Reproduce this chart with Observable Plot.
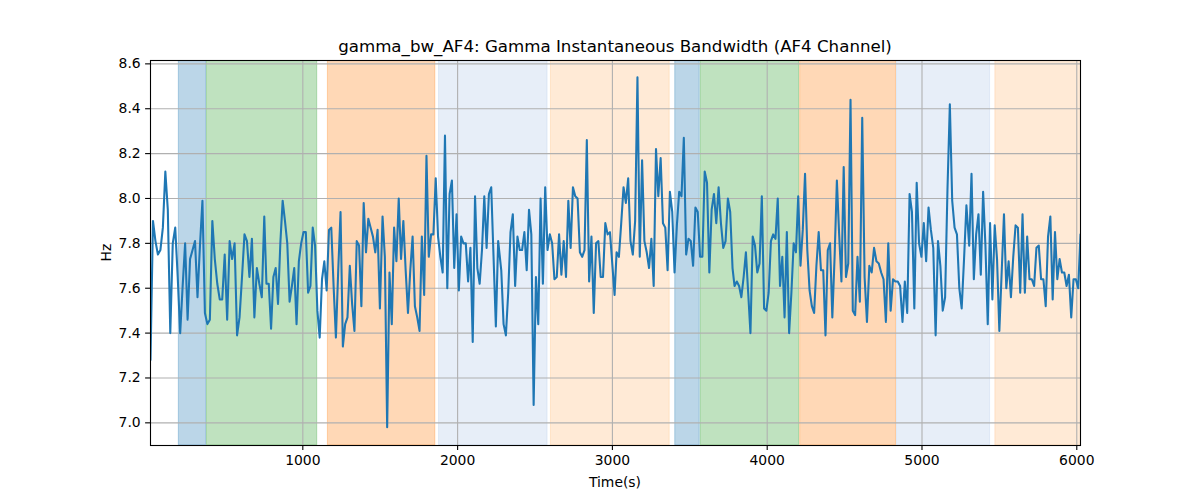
<!DOCTYPE html>
<html>
<head>
<meta charset="utf-8">
<script src="https://cdn.jsdelivr.net/npm/d3@7"></script>
<script src="https://cdn.jsdelivr.net/npm/@observablehq/plot@0.6"></script>
<style>
  body { margin: 0; background: #fff; }
  #chart { width: 1200px; height: 500px; }
</style>
</head>
<body>
<div id="chart"></div>
<script>
// ---- Data ----
const titleText = "gamma_bw_AF4: Gamma Instantaneous Bandwidth (AF4 Channel)";
const xLabel = "Time(s)";
const yLabel = "Hz";

// Signal, in consecutive stretches; each stretch runs from segStart to segEnd (seconds)
const segStart = [16, 765, 1515, 2282, 3027, 3789, 4568, 5305];
const segEnd   = [751, 1498, 2262, 3014, 3776, 4553, 5287, 6024];

const segA = [7.28,7.90,7.81,7.75,7.77,7.87,8.12,7.95,7.40,7.80,7.87,7.65,7.40,7.61,7.80,7.46,7.73,7.77,7.81,7.56,7.79,7.99,7.49,7.44,7.46,7.90,7.73,7.62,7.55,7.55,7.75,7.46,7.81,7.73,7.80,7.39,7.47,7.65,7.84,7.81,7.65,7.82,7.47,7.69,7.62,7.56,7.92];
const segB = [7.62,7.62,7.42,7.65,7.69,7.53,7.80,7.99,7.90,7.80,7.54,7.61,7.69,7.44,7.72,7.80,7.85,7.85,7.58,7.61,7.87,7.79,7.50,7.38,7.64,7.72,7.59,7.86,7.87,7.61,7.38,7.68,7.94,7.34,7.44,7.47,7.70,7.53,7.41,7.81,7.79,7.52,7.98,7.76,7.91,7.87,7.83,7.76,7.86,7.51];
const segC = [7.92,7.74,6.98,7.67,7.44,7.87,7.72,8.00,7.73,7.90,7.68,7.49,7.68,7.83,7.52,7.47,7.41,7.83,7.57,8.19,7.74,7.84,7.84,8.09,7.83,7.74,7.67,8.28,7.60,8.02,8.08,7.69,7.93,7.59,7.83,7.80,7.80,7.63,7.78,7.36,8.01,7.69,7.62,7.77,8.01,7.78,8.02,8.05,7.74,7.43,7.81];
const segD = [7.68,7.44,7.39,7.58,7.85,7.93,7.61,7.83,7.77,7.77,7.85,7.68,7.95,7.84,7.08,7.65,7.44,8.00,7.62,8.05,7.77,7.84,7.80,7.64,7.65,7.84,7.66,7.81,7.65,7.99,7.78,8.05,8.01,8.00,7.76,7.74,7.77,8.26,7.63,7.83,7.49,7.80,7.81,7.65,7.65,7.89,7.84,7.85,7.71,7.57];
const segE = [7.76,7.74,7.89,8.05,7.98,8.09,7.81,7.75,7.90,8.54,7.74,8.17,7.81,7.76,7.69,7.82,7.61,8.22,8.01,8.18,7.89,7.87,7.68,8.03,7.94,7.67,7.88,8.03,8.01,8.27,7.75,7.82,7.81,7.70,7.96,7.94,7.74,7.74,8.12,8.07,7.67,7.95,8.02,7.89,8.05,7.89,7.78,7.81,8.00,7.94,7.69];
const segF = [7.61,7.63,7.61,7.56,7.65,7.76,7.58,7.40,7.83,7.79,7.67,7.71,8.01,7.51,7.50,7.58,7.81,7.84,7.82,8.00,7.61,7.74,7.47,7.85,7.40,7.58,7.80,7.76,8.01,7.70,7.86,8.11,7.77,7.59,7.52,7.49,7.70,7.85,7.68,7.68,7.39,7.77,7.80,7.47,7.74,8.08,7.84,7.63,8.14,7.65,7.71,8.44,7.50];
const segG = [7.48,7.74,7.54,8.36,7.65,7.45,7.70,7.67,7.78,7.72,7.71,7.67,7.64,7.45,7.80,7.50,7.64,7.63,7.63,7.61,7.45,7.63,7.49,8.02,7.94,7.51,8.07,7.80,7.74,7.89,7.72,7.96,7.86,7.78,7.39,7.81,7.70,7.50,7.56,8.04,8.42,7.99,7.87,7.84,7.60,7.51,7.73,7.97];
const segH = [7.79,8.11,7.64,7.84,7.93,7.66,8.03,7.79,7.44,7.89,7.55,7.88,7.73,7.41,7.67,7.93,7.60,7.72,7.56,7.74,7.88,7.87,7.58,7.93,7.58,7.83,7.64,7.64,7.61,7.78,7.79,7.64,7.64,7.52,7.83,7.92,7.55,7.85,7.64,7.73,7.67,7.67,7.61,7.66,7.47,7.64,7.64,7.60,7.84];

// Shaded phases
const spanStart = [199, 381, 1162, 1880, 2603, 3406, 3571, 4213, 4838, 5474];
const spanEnd   = [375, 1093, 1856, 2581, 3370, 3564, 4206, 4832, 5440, 6100];
const spanPhase = ["p1","p2","p3","p4","p5","p1","p2","p3","p4","p5"];
const phases = ["p1","p2","p3","p4","p5"];

// Ticks
const xTicks = [1000, 2000, 3000, 4000, 5000, 6000];
const yTicks = [7.0, 7.2, 7.4, 7.6, 7.8, 8.0, 8.2, 8.4, 8.6];

// ---- Build tables ----
const segments = [segA, segB, segC, segD, segE, segF, segG, segH];
const series = [];
segments.forEach((vals, k) => {
  const n = vals.length;
  vals.forEach((v, i) => {
    series.push({t: segStart[k] + (segEnd[k] - segStart[k]) * i / (n - 1), hz: v});
  });
});
const spans = spanStart.map((s, i) => ({start: s, end: spanEnd[i], phase: spanPhase[i]}));

const FONT = "'DejaVu Sans', sans-serif";
const svg = Plot.plot({
  width: 1200,
  height: 500,
  marginLeft: 150,
  marginRight: 120,
  marginTop: 60,
  marginBottom: 55,
  style: {fontFamily: FONT, fontSize: "13.9px", color: "black", background: "white", overflow: "visible"},
  x: {domain: [16, 6024]},
  y: {domain: [6.899, 8.615]},
  color: {domain: phases, range: ["#1f77b4", "#2ca02c", "#ff7f0e", "#aec7e8", "#ffbb78"]},
  marks: [
    Plot.rect(spans, {x1: "start", x2: "end", fill: "phase", fillOpacity: 0.3, stroke: "phase", strokeOpacity: 0.3, strokeWidth: 1, clip: true}),
    Plot.gridX(xTicks, {stroke: "#b0b0b0", strokeOpacity: 1, strokeWidth: 1.1}),
    Plot.gridY(yTicks, {stroke: "#b0b0b0", strokeOpacity: 1, strokeWidth: 1.1}),
    Plot.line(series, {x: "t", y: "hz", stroke: "#1f77b4", strokeWidth: 2.08, clip: true}),
    Plot.frame({stroke: "black", strokeWidth: 1.1}),
    Plot.axisX(xTicks, {tickSize: 4.9, tickPadding: 4.9, label: null, tickFormat: d3.format("d"), strokeWidth: 1.1}),
    Plot.axisY(yTicks, {tickSize: 4.9, tickPadding: 4.9, label: null, tickFormat: d3.format(".1f"), strokeWidth: 1.1})
  ]
});

const s = d3.select(svg);
s.append("text")
  .attr("x", 615).attr("y", 52)
  .attr("text-anchor", "middle")
  .style("font-family", FONT).style("font-size", "16.67px").attr("fill", "black")
  .text(titleText);
s.append("text")
  .attr("x", 615).attr("y", 487)
  .attr("text-anchor", "middle")
  .style("font-family", FONT).style("font-size", "13.9px").attr("fill", "black")
  .text(xLabel);
s.append("text")
  .attr("transform", "translate(111,252.5) rotate(-90)")
  .attr("text-anchor", "middle")
  .style("font-family", FONT).style("font-size", "13.9px").attr("fill", "black")
  .text(yLabel);

document.getElementById("chart").appendChild(svg);
</script>
</body>
</html>
